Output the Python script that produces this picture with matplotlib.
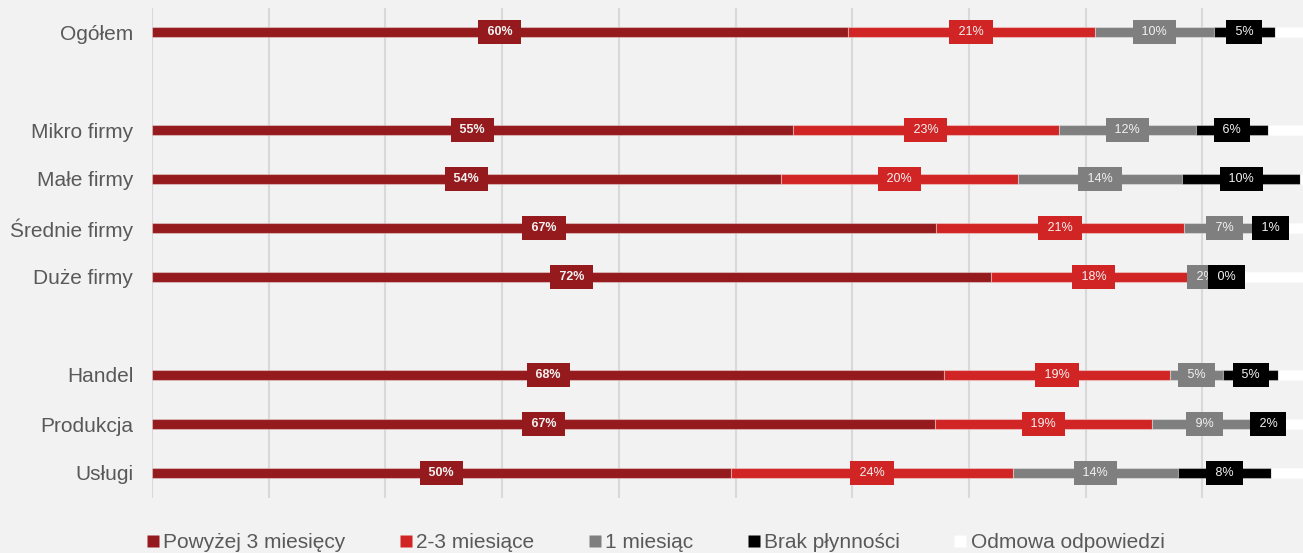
import matplotlib
matplotlib.use("Agg")
import matplotlib.pyplot as plt
from matplotlib.lines import Line2D
import numpy as np

plt.rcParams['font.family'] = ['Liberation Sans', 'DejaVu Sans']

categories = ["Ogółem", "Mikro firmy", "Małe firmy", "Średnie firmy", "Duże firmy",
              "Handel", "Produkcja", "Usługi"]
# slot index for each category (empty slots separate groups)
slots = [0, 2, 3, 4, 5, 7, 8, 9]

series_names = ["Powyżej 3 miesięcy", "2-3 miesiące", "1 miesiąc", "Brak płynności",
                "Odmowa odpowiedzi"]
above3 = [59.6, 54.9, 53.9, 67.2, 71.9, 67.9, 67.1, 49.6]
m23 = [21.2, 22.8, 20.3, 21.2, 17.6, 19.3, 18.6, 24.2]
m1 = [10.2, 11.8, 14.1, 7.0, 1.5, 4.6, 9.0, 14.1]
brak = [5.2, 6.1, 10.1, 0.9, 0.3, 4.7, 1.9, 8.0]
odmowa = [3.8, 4.4, 1.6, 3.7, 8.7, 3.5, 3.4, 4.1]
series = [above3, m23, m1, brak, odmowa]
colors = ["#951a1d", "#d12424", "#7f7f7f", "#000000", "#ffffff"]
show_label = [True, True, True, True, False]

W, H = 1303, 553
fig = plt.figure(figsize=(W / 100, H / 100), dpi=100)
fig.patch.set_facecolor("#f2f2f2")
ax = fig.add_axes([152 / W, (H - 497.5) / H, (W - 152) / W, 490 / H])
ax.set_facecolor("#f2f2f2")

y = np.array(slots, dtype=float)
left = np.zeros(len(categories))
for i, (vals, col) in enumerate(zip(series, colors)):
    vals = np.array(vals)
    ax.barh(y, vals, left=left, height=0.205, color=col,
            edgecolor=(1, 1, 1, 0.35), linewidth=0.8, zorder=2)
    if show_label[i]:
        for yy, l, v in zip(y, left, vals):
            # a near-zero segment gets its label starting at the segment
            small = v < 0.5
            ax.text(l if small else l + v / 2, yy, f" {int(round(v))}% ",
                    ha="left" if small else "center", va="center",
                    fontsize=9, color="#f2f2f2",
                    fontweight="bold" if i == 0 else "normal",
                    bbox=dict(boxstyle="square,pad=0.45", fc=col, ec="none"),
                    zorder=5 + i, clip_on=False)
    left += vals

ax.set_xlim(0, (W - 152) / 11.67)
ax.set_ylim(9.5, -0.5)
ax.set_xticks(np.arange(0, 100, 10))
ax.set_xticklabels([])
ax.grid(axis="x", color="#d9d9d9", linewidth=1.5, zorder=0)
ax.set_axisbelow(True)
ax.set_yticks(slots)
ax.set_yticklabels(categories, fontsize=15, color="#595959")
ax.tick_params(axis="y", length=0, pad=13.5)
ax.tick_params(axis="x", length=0)
for s in ax.spines.values():
    s.set_visible(False)

handles = [Line2D([0], [0], marker="s", linestyle="none", markersize=9,
                  markerfacecolor=c, markeredgecolor="none") for c in colors]
fig.legend(handles, series_names, loc="center", bbox_to_anchor=(0.503, 10 / H),
           ncol=5, frameon=False, fontsize=15, labelcolor="#595959",
           handlelength=0.6, handletextpad=0.2, columnspacing=2.6,
           borderaxespad=0, borderpad=0)

fig.savefig("out.png", dpi=100, facecolor=fig.get_facecolor())
